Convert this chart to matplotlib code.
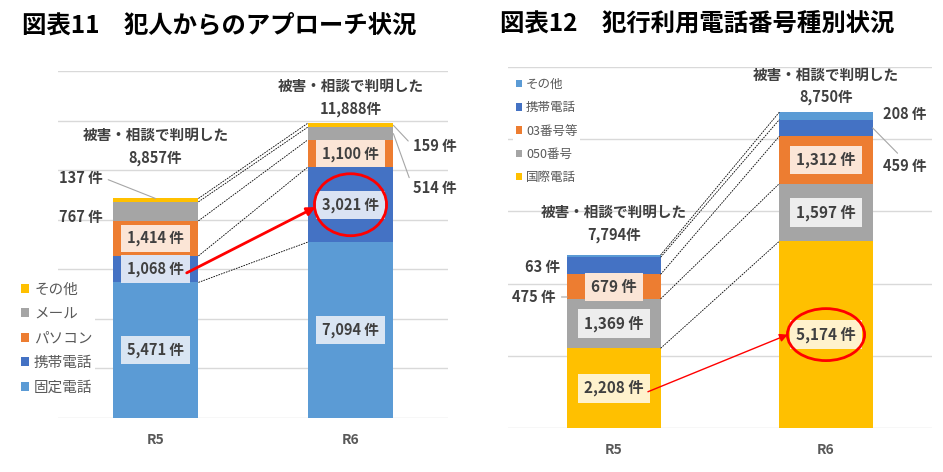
import numpy as np
import matplotlib
matplotlib.use('Agg')
import matplotlib.pyplot as plt
from matplotlib.patches import Ellipse

plt.rcParams['font.family'] = ['Noto Sans CJK JP', 'DejaVu Sans']

years = ['R5', 'R6']

# 図表11 data (bottom -> top)
contact_names = ['固定電話', '携帯電話', 'パソコン', 'メール', 'その他']
contact_r5 = [5471, 1068, 1414, 767, 137]
contact_r6 = [7094, 3021, 1100, 514, 159]
contact_totals = ['8,857件', '11,888件']

# 図表12 data (bottom -> top)
phone_names = ['国際電話', '050番号', '03番号等', '携帯電話', 'その他']
phone_r5 = [2208, 1369, 679, 475, 63]
phone_r6 = [5174, 1597, 1312, 459, 208]
phone_totals = ['7,794件', '8,750件']

caption = '被害・相談で判明した'

contact_colors = ['#5B9BD5', '#4472C4', '#ED7D31', '#A5A5A5', '#FFC000']
contact_boxes = ['#D9E5F3', '#DAE3F3', '#FBE5D6']
phone_colors = ['#FFC000', '#A5A5A5', '#ED7D31', '#4472C4', '#5B9BD5']
phone_boxes = ['#FFF2CC', '#EDEDED', '#FBE5D6']

TXT = '#404040'
W = 0.44


def stacked(ax, r5, r6, colors, boxes, names, ymax, fs):
    x = np.arange(2)
    bottoms = np.zeros(2)
    for i in range(len(names)):
        vals = np.array([r5[i], r6[i]])
        ax.bar(x, vals, W, bottom=bottoms, color=colors[i], label=names[i], zorder=3)
        if i < 3:
            for xi, v, bt in zip(x, vals, bottoms):
                ax.text(xi, bt + v / 2, f'{v:,} 件', ha='center', va='center',
                        fontsize=fs, fontweight='bold', color=TXT, zorder=6,
                        bbox=dict(boxstyle='square,pad=0.4', fc=boxes[i], ec='none'))
        bottoms += vals
    # dotted connectors between the stacks
    for a, b in zip(np.cumsum(r5), np.cumsum(r6)):
        ax.plot([W / 2, 1 - W / 2], [a, b], color='black', lw=0.6,
                ls=(0, (2, 1.2)), zorder=4)
    ax.set_xlim(-0.5, 1.5)
    ax.set_ylim(0, ymax)
    ax.set_yticks(np.arange(0, ymax + 1, 2000))
    ax.grid(axis='y', color='#D9D9D9', lw=1, zorder=0)
    for s in ax.spines.values():
        s.set_visible(False)
    ax.tick_params(left=False, labelleft=False, bottom=False, pad=7)
    ax.set_xticks(x)
    ax.set_xticklabels(years, fontsize=10, fontweight='bold', color='#595959')


def leader(ax, label, xy, xytext, ha, relpos=None):
    props = None
    if relpos is not None:
        props = dict(arrowstyle='-', color='#A6A6A6', lw=0.8, relpos=relpos,
                     shrinkA=2, shrinkB=0)
    ax.annotate(label, xy=xy, xytext=xytext, ha=ha, va='center', fontsize=10.5,
                fontweight='bold', color=TXT, arrowprops=props, zorder=6)


fig = plt.figure(figsize=(9.43, 4.72), dpi=100)

# ---------------- 図表11 ----------------
ax1 = fig.add_axes([58 / 943, 54 / 472, 390 / 943, 347 / 472])
stacked(ax1, contact_r5, contact_r6, contact_colors, contact_boxes, contact_names, 14000, 10.5)

c5 = np.cumsum(contact_r5)
c6 = np.cumsum(contact_r6)
for xi, top, lab, off in zip([0, 1], [c5[-1], c6[-1]], contact_totals, [(29, 46), (10, 27)]):
    ax1.annotate(lab, xy=(xi, top), xytext=(0, off[0]), textcoords='offset points',
                 ha='center', va='center', fontsize=10.5, fontweight='bold', color=TXT)
    ax1.annotate(caption, xy=(xi, top), xytext=(0, off[1]), textcoords='offset points',
                 ha='center', va='center', fontsize=10.5, fontweight='bold', color=TXT)

leader(ax1, f'{contact_r5[4]} 件', (0, c5[-1]), (-0.27, 9700), 'right', (1, 0.5))
leader(ax1, f'{contact_r5[3]} 件', (0, c5[3]), (-0.27, 8110), 'right')
leader(ax1, f'{contact_r6[4]} 件', (1 + W / 2, c6[-1] - contact_r6[4] / 2), (1.32, 10975), 'left', (0, 0.5))
leader(ax1, f'{contact_r6[3]} 件', (1 + W / 2, c6[3] - contact_r6[3] / 2), (1.32, 9280), 'left', (0, 0.5))

# highlight: 携帯電話 increase
ax1.annotate('', xy=(0.82, c6[0] + contact_r6[1] / 2 - 100), xytext=(0.16, c5[0] + contact_r5[1] / 2 - 150),
             arrowprops=dict(arrowstyle='-|>', color='#FF0000', lw=2, mutation_scale=12,
                             shrinkA=0, shrinkB=0), zorder=7)
ax1.add_patch(Ellipse((1, c6[0] + contact_r6[1] / 2), 0.37, 2500, fill=False,
                      ec='#FF0000', lw=2, zorder=7))

h, l = ax1.get_legend_handles_labels()
leg1 = ax1.legend(h[::-1], l[::-1], loc='center left', bbox_to_anchor=(18 / 943, 0.283),
                  bbox_transform=fig.transFigure, frameon=True, fontsize=10.5,
                  handlelength=0.55, handleheight=0.55, handletextpad=0.35,
                  labelspacing=0.72, borderpad=0.2, borderaxespad=0)
leg1.get_frame().set_facecolor('white')
leg1.get_frame().set_edgecolor('none')
leg1.get_frame().set_alpha(1)
for t in leg1.get_texts():
    t.set_color('#595959')

# ---------------- 図表12 ----------------
ax2 = fig.add_axes([508 / 943, 44 / 472, 424 / 943, 361 / 472])
stacked(ax2, phone_r5, phone_r6, phone_colors, phone_boxes, phone_names, 10000, 11)

p5 = np.cumsum(phone_r5)
p6 = np.cumsum(phone_r6)
for xi, top, lab, off in zip([0, 1], [p5[-1], p6[-1]], phone_totals, [(14, 31), (11, 27)]):
    ax2.annotate(lab, xy=(xi, top), xytext=(0, off[0]), textcoords='offset points',
                 ha='center', va='center', fontsize=10.5, fontweight='bold', color=TXT)
    ax2.annotate(caption, xy=(xi, top), xytext=(0, off[1]), textcoords='offset points',
                 ha='center', va='center', fontsize=10.5, fontweight='bold', color=TXT)

leader(ax2, f'{phone_r5[4]} 件', (0, p5[-1]), (-0.255, 4460), 'right')
leader(ax2, f'{phone_r5[3]} 件', (-W / 2, 3629), (-0.274, 3629), 'right', (1, 0.5))
leader(ax2, f'{phone_r6[4]} 件', (1, p6[-1]), (1.267, 8698), 'left')
leader(ax2, f'{phone_r6[3]} 件', (1 + W / 2, p6[3] - phone_r6[3] / 2), (1.267, 7258), 'left', (0.45, 1))

# highlight: 国際電話 increase
ax2.annotate('', xy=(0.82, phone_r6[0] / 2), xytext=(0.16, phone_r5[0] / 2 - 100),
             arrowprops=dict(arrowstyle='-|>', color='#FF0000', lw=1, mutation_scale=12,
                             shrinkA=0, shrinkB=0), zorder=7)
ax2.add_patch(Ellipse((1, phone_r6[0] / 2), 0.364, 1440, fill=False,
                      ec='#FF0000', lw=2, zorder=7))

h, l = ax2.get_legend_handles_labels()
leg2 = ax2.legend(h[::-1], l[::-1], loc='center left', bbox_to_anchor=(513 / 943, 0.7225),
                  bbox_transform=fig.transFigure, frameon=True, fontsize=9,
                  handlelength=0.55, handleheight=0.55, handletextpad=0.3,
                  labelspacing=0.82, borderpad=0.2, borderaxespad=0)
leg2.get_frame().set_facecolor('white')
leg2.get_frame().set_edgecolor('none')
leg2.get_frame().set_alpha(1)
for t in leg2.get_texts():
    t.set_color('#595959')

# titles
fig.text(22 / 943, 1 - 25 / 472, '図表11　犯人からのアプローチ状況', fontsize=17.6,
         fontweight='bold', va='center', ha='left')
fig.text(500 / 943, 1 - 25 / 472, '図表12　犯行利用電話番号種別状況', fontsize=17.6,
         fontweight='bold', va='center', ha='left')

fig.savefig('out.png', dpi=100, facecolor='white')
